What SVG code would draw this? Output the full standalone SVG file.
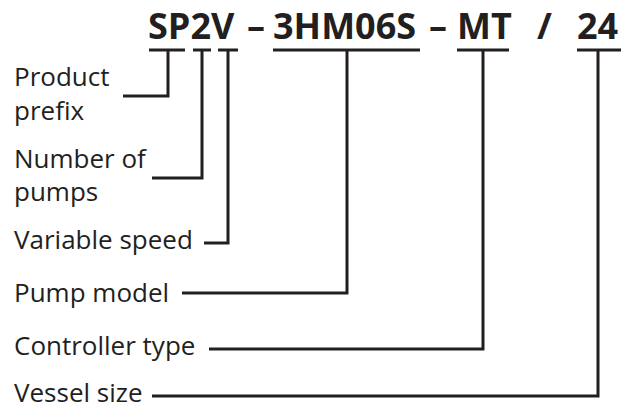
<svg xmlns="http://www.w3.org/2000/svg" width="627" height="410" viewBox="0 0 627 410">
<style>
.t{font-family:"Open Sans","Liberation Sans",sans-serif;font-weight:700;font-size:36px;fill:#231f20}
.l{font-family:"Open Sans","Liberation Sans",sans-serif;font-size:26px;fill:#231f20}
.c{fill:none;stroke:#231f20;stroke-width:3;stroke-linecap:butt;stroke-linejoin:miter}
</style>
<rect width="627" height="410" fill="#ffffff"/>
<g id="code">
<text class="t" y="39"><tspan x="148">SP2V</tspan><tspan x="247">–</tspan><tspan x="273">3HM06S</tspan><tspan x="429">–</tspan><tspan x="457">MT</tspan><tspan x="537">/</tspan><tspan x="577">24</tspan></text>
</g>
<g id="product-prefix"><text class="l" x="14" y="86">Product</text><text class="l" x="14" y="120">prefix</text></g>
<g id="number-of-pumps"><text class="l" x="14" y="168">Number of</text><text class="l" x="14" y="201">pumps</text></g>
<g id="variable-speed"><text class="l" x="14" y="249">Variable speed</text></g>
<g id="pump-model"><text class="l" x="14" y="302">Pump model</text></g>
<g id="controller-type"><text class="l" x="14" y="355">Controller type</text></g>
<g id="vessel-size"><text class="l" x="14" y="402">Vessel size</text></g>
<g id="connectors">
<path class="c" d="M149 50H185M193 50H211M218 50H238M273 50H420M457 50H509M577 50H621"/>
<path class="c" d="M123 96H168V50"/>
<path class="c" d="M152 178H202V50"/>
<path class="c" d="M204 243H228V50"/>
<path class="c" d="M182 293H347V50"/>
<path class="c" d="M209 349H483V50"/>
<path class="c" d="M152 396H598V50"/>
</g>
</svg>
